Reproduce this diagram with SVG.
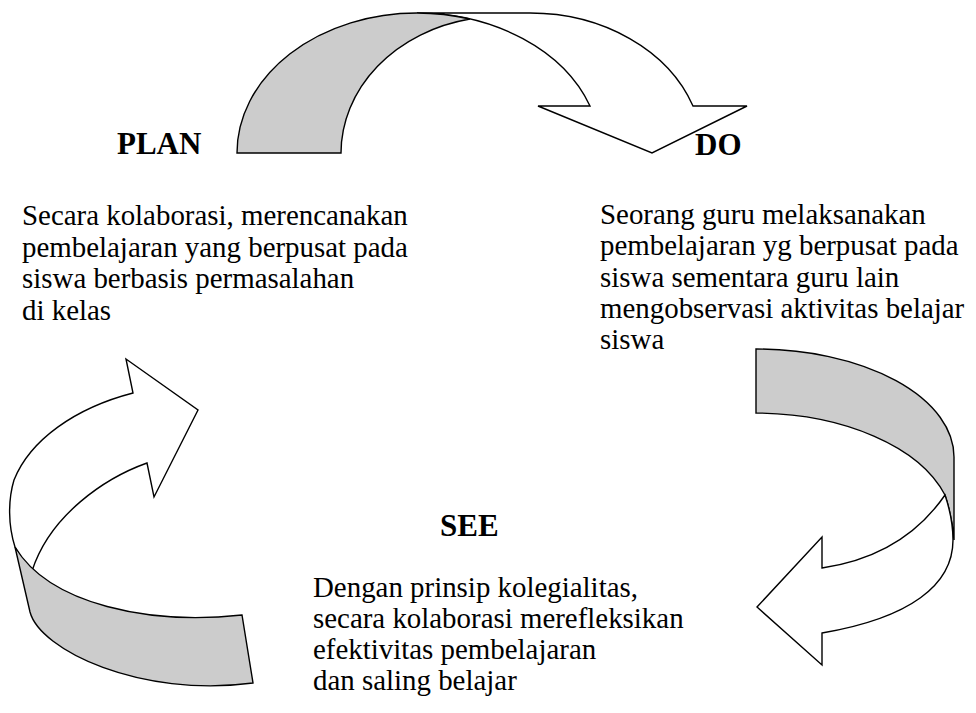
<svg xmlns="http://www.w3.org/2000/svg" width="976" height="713" viewBox="0 0 976 713">
<style>
.bg{fill:#ffffff}
.band{fill:#cccccc;stroke:#000;stroke-width:1.4;stroke-linejoin:miter}
.face{fill:#ffffff;stroke:#000;stroke-width:1.4;stroke-linejoin:miter}
.h{font-family:"Liberation Serif","Times New Roman",serif;font-weight:bold;font-size:31px;fill:#000}
.t{font-family:"Liberation Serif","Times New Roman",serif;font-size:28.9px;fill:#000}
</style>
<rect class="bg" x="0" y="0" width="976" height="713"/>
<g id="connectors">
  <g id="arrow-plan-do">
    <path class="face" d="M417,13 L530,13 A173,140 0 0 1 693,106 L747,106 L652,153 L538,106 L590,106 A184,140 0 0 0 417,13 Z"/>
    <path class="band" d="M237,153 A180,140 0 0 1 417,13 A184,140 0 0 1 470,19 A160,137 0 0 0 341,153 Z"/>
  </g>
  <g id="arrow-do-see">
    <path class="band" d="M756,349 A198,108 0 0 1 954,457 L954,540 C953,525 950,510 945,495 A199,115 0 0 0 756,413 Z"/>
    <path class="face" d="M945,495 C950,510 953,525 953,540 C953,585 910,618 822,633 L822,665 L757,607 L822,537 L822,568 Q903,556 945,495 Z"/>
  </g>
  <g id="arrow-see-plan">
    <path class="face" d="M15,547 C8,525 8,500 14,480 C30,440 75,408 133,393 L126,359 L198,410 L154,497 L147,463 C105,478 50,515 32,571 C25,563 19,555 15,547 Z"/>
    <path class="band" d="M15,547 L30,612 C40,650 140,698 253,683 L242,615 C150,625 50,605 15,547 Z"/>
  </g>
</g>
<g id="node-plan">
  <text class="h" x="117" y="154">PLAN</text>
  <text class="t" x="22" y="225">Secara kolaborasi, merencanakan</text>
  <text class="t" x="22" y="257">pembelajaran yang berpusat pada</text>
  <text class="t" x="22" y="288">siswa berbasis permasalahan</text>
  <text class="t" x="22" y="320">di kelas</text>
</g>
<g id="node-do">
  <text class="h" x="695" y="155">DO</text>
  <text class="t" x="600" y="224">Seorang guru melaksanakan</text>
  <text class="t" x="600" y="255">pembelajaran yg berpusat pada</text>
  <text class="t" x="600" y="287">siswa sementara guru lain</text>
  <text class="t" x="600" y="318">mengobservasi aktivitas belajar</text>
  <text class="t" x="600" y="349">siswa</text>
</g>
<g id="node-see">
  <text class="h" x="440" y="536">SEE</text>
  <text class="t" x="313" y="597">Dengan prinsip kolegialitas,</text>
  <text class="t" x="313" y="628">secara kolaborasi merefleksikan</text>
  <text class="t" x="313" y="659">efektivitas pembelajaran</text>
  <text class="t" x="313" y="690">dan saling belajar</text>
</g>
</svg>
